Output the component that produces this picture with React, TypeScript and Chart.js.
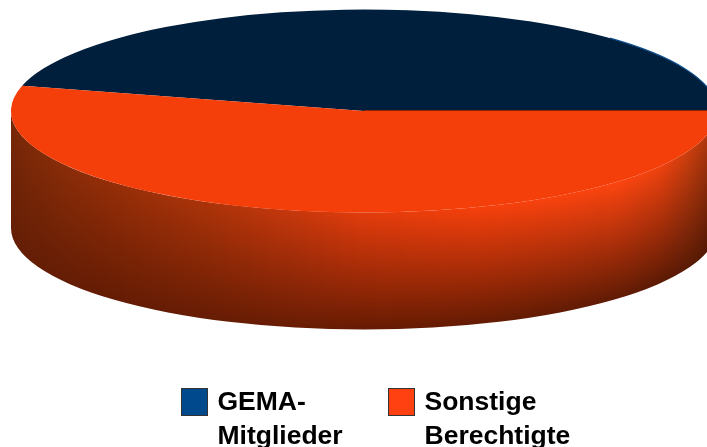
import React, { useEffect, useRef } from "react";
import { Chart, registerables } from "chart.js";

Chart.register(...registerables);

// Shares of the two member groups
const categories = ["GEMA-Mitglieder", "Sonstige Berechtigte"];
const shares = [46, 54];
const legendLines = [
  ["GEMA-", "Mitglieder"],
  ["Sonstige", "Berechtigte"],
];
const faceColors = ["#001f3c", "#f53f0b"];
const swatchColors = ["#00498c", "#ff4010"];

const WIDTH = 707;
const HEIGHT = 447;
const RADIUS_X = 353;
const RADIUS_Y = 101.5;
const DEPTH = 117;

// Side shading: colour at the upper and lower rim, by horizontal position
const shadeX = [11, 60, 100, 200, 300, 360, 480, 620, 660, 690, 720];
const shadeTop = [
  [120, 40, 8], [136, 44, 8], [146, 45, 8], [170, 51, 9], [202, 56, 12], [226, 60, 12],
  [246, 64, 12], [251, 69, 16], [238, 66, 15], [200, 62, 14], [156, 50, 12],
];
const shadeBottom = [
  [100, 30, 5], [100, 29, 5], [100, 28, 4], [102, 28, 4], [104, 28, 4], [102, 27, 3],
  [100, 27, 3], [96, 27, 4], [92, 26, 4], [88, 26, 5], [80, 24, 5],
];

function shadeAt(table: number[][], x: number) {
  let i = 0;
  while (i < shadeX.length - 2 && x > shadeX[i + 1]) i++;
  const t = Math.min(1, Math.max(0, (x - shadeX[i]) / (shadeX[i + 1] - shadeX[i])));
  const c = table[i].map((v, k) => Math.round(v + (table[i + 1][k] - v) * t));
  return `rgb(${c[0]},${c[1]},${c[2]})`;
}

// Traces the visible cylinder side below one slice's outer rim
function traceSide(ctx: CanvasRenderingContext2D, cx: number, cy: number, from: number, to: number) {
  ctx.beginPath();
  ctx.ellipse(cx, cy, RADIUS_X, RADIUS_Y, 0, from, to);
  ctx.ellipse(cx, cy + DEPTH, RADIUS_X, RADIUS_Y, 0, to, from, true);
  ctx.closePath();
}

const pie3d = {
  id: "pie3d",
  beforeDatasetsDraw(chart: Chart) {
    const ctx = chart.ctx;
    const arcs = chart.getDatasetMeta(0).data as any[];
    const { x: cx, y: cy } = arcs[0];
    for (const arc of arcs) {
      // Only the part of a slice facing the viewer (0 to 180 degrees) has a side
      const start = ((arc.startAngle % (2 * Math.PI)) + 2 * Math.PI) % (2 * Math.PI);
      const end = start + (arc.endAngle - arc.startAngle);
      const to = Math.min(end, Math.PI);
      if (to <= start) continue;
      ctx.save();
      traceSide(ctx, cx, cy, start, to);
      ctx.clip();
      for (let x = Math.floor(cx - RADIUS_X); x < WIDTH; x++) {
        const u = (x + 0.5 - cx) / RADIUS_X;
        const rim = cy + RADIUS_Y * Math.sqrt(Math.max(0, 1 - u * u));
        const column = ctx.createLinearGradient(0, rim, 0, rim + DEPTH);
        column.addColorStop(0, shadeAt(shadeTop, x));
        column.addColorStop(1, shadeAt(shadeBottom, x));
        ctx.fillStyle = column;
        ctx.fillRect(x, rim - 2, 1, DEPTH + 4);
      }
      ctx.restore();
    }
    // Flatten the top face into an ellipse while the arcs are drawn
    ctx.save();
    ctx.translate(cx, cy);
    ctx.scale(1, RADIUS_Y / RADIUS_X);
    ctx.translate(-cx, -cy);
  },
  afterDatasetsDraw(chart: Chart) {
    const ctx = chart.ctx;
    ctx.restore();
    const { x: cx, y: cy } = chart.getDatasetMeta(0).data[0] as any;

    // Dark seam on the cut towards the right and light rim on the far edge
    ctx.save();
    ctx.strokeStyle = "#8a2406";
    ctx.lineWidth = 1;
    ctx.beginPath();
    ctx.moveTo(cx, cy - 0.5);
    ctx.lineTo(WIDTH, cy - 0.5);
    ctx.stroke();
    ctx.strokeStyle = "#0a4c8c";
    ctx.lineWidth = 1.2;
    ctx.beginPath();
    ctx.ellipse(cx, cy, RADIUS_X, RADIUS_Y, 0, -0.8, -0.05);
    ctx.stroke();
    ctx.restore();
  },
  afterDraw(chart: Chart) {
    const ctx = chart.ctx;
    const slots = [181, 388];
    ctx.save();
    ctx.font = 'bold 26.5px "Liberation Sans", Arial, sans-serif';
    ctx.textBaseline = "alphabetic";
    ctx.textAlign = "left";
    legendLines.forEach((lines, i) => {
      ctx.fillStyle = swatchColors[i];
      ctx.fillRect(slots[i], 388, 27, 27);
      ctx.strokeStyle = "#333";
      ctx.lineWidth = 1;
      ctx.strokeRect(slots[i] + 0.5, 388.5, 26, 27);
      ctx.fillStyle = "#000";
      lines.forEach((line, j) => ctx.fillText(line, slots[i] + 36.5, 410 + j * 33.5));
    });
    ctx.restore();
  },
};

export default function App() {
  const canvasRef = useRef<HTMLCanvasElement>(null);

  useEffect(() => {
    const chart = new Chart(canvasRef.current!, {
      type: "pie",
      data: {
        labels: categories,
        datasets: [
          {
            data: shares,
            backgroundColor: faceColors,
            borderWidth: 0,
            clip: false,
          } as any,
        ],
      },
      options: {
        responsive: false,
        animation: false,
        rotation: 284.4,
        radius: RADIUS_X,
        layout: { padding: { left: 21, top: 0, right: 0, bottom: 225 } },
        plugins: { legend: { display: false }, tooltip: { enabled: false } },
      },
      plugins: [pie3d],
    });
    return () => chart.destroy();
  }, []);

  return (
    <div style={{ position: "absolute", left: 0, top: 0, width: WIDTH, height: HEIGHT, background: "#fff", overflow: "hidden" }}>
      <canvas ref={canvasRef} width={WIDTH} height={HEIGHT} style={{ display: "block" }} />
    </div>
  );
}
